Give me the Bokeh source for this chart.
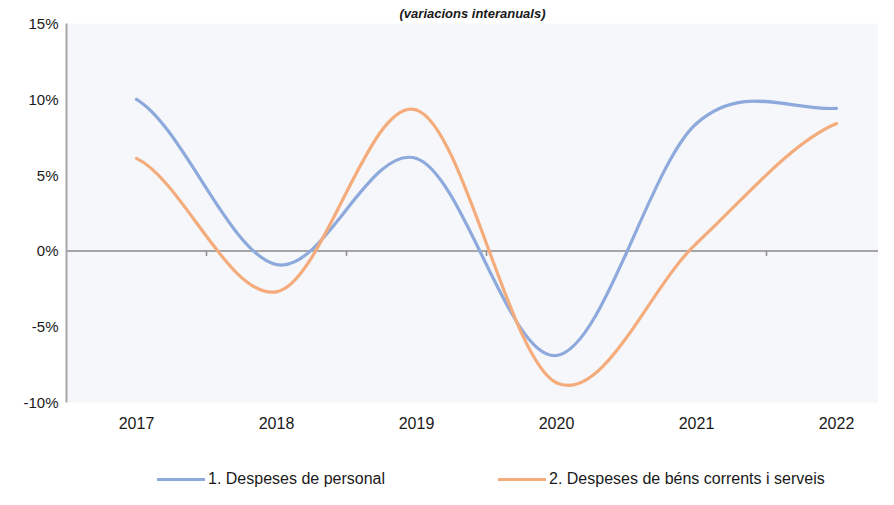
import numpy as np
from bokeh.plotting import figure
from bokeh.models import (Range1d, FixedTicker, Span, Legend, LegendItem, BoxAnnotation)
from bokeh.embed import file_html
from bokeh.resources import INLINE

# ---- data ----
years = ["2017", "2018", "2019", "2020", "2021", "2022"]
personal = [10.0, -0.9, 6.1, -6.9, 8.4, 9.4]
bens = [6.1, -2.7, 9.3, -8.7, 0.5, 8.4]
series_names = ["1. Despeses de personal", "2. Despeses de béns corrents i serveis"]
y_ticks = [-10, -5, 0, 5, 10, 15]
title_text = "(variacions interanuals)"

colors = ["#8eaadc", "#f5ac7c"]
FONT = "Liberation Sans"

W, H = 878, 489
LEFT, TOP = 66, 23
PLOT_BOTTOM = 402          # pixel row of the lowest y tick
cat_px = 140
frame_w = W - LEFT
px_per_unit = (PLOT_BOTTOM - TOP) / (y_ticks[-1] - y_ticks[0])
y_low = y_ticks[0] - (H - PLOT_BOTTOM) / px_per_unit

xs = np.arange(1, len(years) + 1, dtype=float)

p = figure(width=W, height=H, output_backend="svg", toolbar_location=None,
           x_range=Range1d(0.5, 0.5 + frame_w / cat_px),
           y_range=Range1d(y_low, y_ticks[-1]),
           min_border_left=LEFT, min_border_right=0,
           min_border_top=TOP, min_border_bottom=0)
p.background_fill_color = "white"
p.border_fill_color = "white"
p.outline_line_color = None
p.xgrid.visible = False
p.ygrid.visible = False

# plot-area background
p.add_layout(BoxAnnotation(bottom=y_ticks[0], top=y_ticks[-1], fill_color="#f5f7fb",
                           fill_alpha=1, line_color=None, level="underlay"))

# title
p.title.text = title_text
p.title.align = "center"
p.title.text_font = FONT
p.title.text_font_size = "13px"
p.title.text_font_style = "bold italic"
p.title.text_color = "#1a1a1a"
p.title.standoff = 5

# y axis
ya = p.yaxis[0]
ya.ticker = FixedTicker(ticks=y_ticks)
ya.bounds = (y_ticks[0], y_ticks[-1])
ya.major_label_overrides = {t: f"{t}%" for t in y_ticks}
ya.axis_line_color = "#a6a6a6"
ya.axis_line_width = 2
ya.major_tick_out = 0
ya.major_tick_in = 0
ya.minor_tick_out = 0
ya.minor_tick_in = 0
ya.major_label_standoff = 8
ya.major_label_text_font = FONT
ya.major_label_text_font_size = "15px"
ya.major_label_text_color = "#1a1a1a"

# x axis (labels under the plot area)
xa = p.xaxis[0]
xa.fixed_location = y_ticks[0]
xa.ticker = FixedTicker(ticks=list(xs))
xa.major_label_overrides = {float(x): y for x, y in zip(xs, years)}
xa.axis_line_color = None
xa.major_tick_out = 0
xa.major_tick_in = 0
xa.minor_tick_out = 0
xa.minor_tick_in = 0
xa.major_label_standoff = 14
xa.major_label_text_font = FONT
xa.major_label_text_font_size = "16px"
xa.major_label_text_color = "#1a1a1a"

# zero line with category-boundary ticks
p.add_layout(Span(location=0, dimension="width", line_color="#8a8a8a", line_width=1.5,
                  level="underlay"))
bounds = xs[:-1] + 0.5
p.segment(x0=bounds, y0=np.zeros_like(bounds), x1=bounds, y1=np.full_like(bounds, -0.33),
          line_color="#8a8a8a", line_width=1.5)


def bez(ys):
    y = np.asarray(ys, dtype=float)
    n = len(y)
    m = np.zeros(n)
    for i in range(n):
        a = y[max(i - 1, 0)]
        b = y[min(i + 1, n - 1)]
        m[i] = (b - a) / 2.0
    return dict(x0=xs[:-1], y0=y[:-1], x1=xs[1:], y1=y[1:],
                cx0=xs[:-1] + 1 / 3, cy0=y[:-1] + m[:-1] / 3,
                cx1=xs[1:] - 1 / 3, cy1=y[1:] - m[1:] / 3)


renderers = []
for ys, c in zip([personal, bens], colors):
    r = p.bezier(line_color=c, line_width=3.2, line_cap="round", **bez(ys))
    renderers.append(r)

# legend at the bottom
lg = Legend(items=[LegendItem(label=n, renderers=[r]) for n, r in zip(series_names, renderers)],
            location=(91, 0), orientation="horizontal",
            glyph_width=48, glyph_height=20, label_standoff=3, spacing=113,
            padding=0, margin=0, border_line_color=None,
            background_fill_alpha=0,
            label_text_font=FONT, label_text_font_size="16px",
            label_text_color="#1a1a1a")
p.add_layout(lg, "center")

open("out.html", "w").write(file_html(p, INLINE))
